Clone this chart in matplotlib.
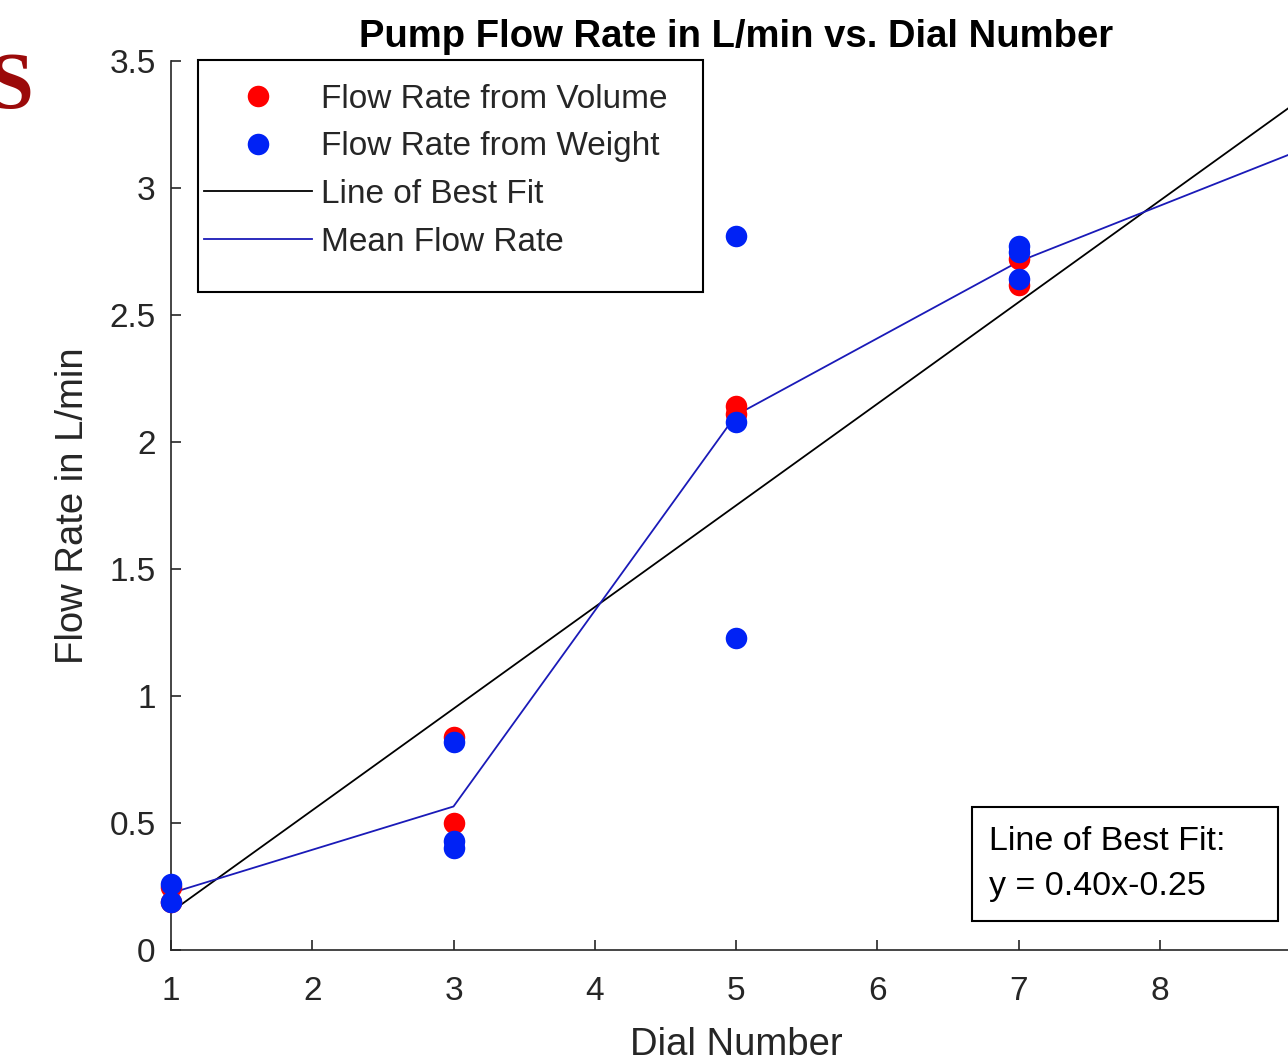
import matplotlib
matplotlib.use("Agg")
import matplotlib.pyplot as plt
from matplotlib.patches import Rectangle
from matplotlib.lines import Line2D

# --- data ---
dial_volume = [1, 1, 3, 3, 5, 5, 7, 7, 9, 9]
rate_volume = [0.19, 0.25, 0.84, 0.50, 2.14, 2.11, 2.72, 2.62, 3.15, 3.20]

dial_weight = [1, 1, 3, 3, 3, 5, 5, 5, 7, 7, 7, 9, 9]
rate_weight = [0.26, 0.19, 0.82, 0.43, 0.40, 2.81, 2.08, 1.23, 2.77, 2.75, 2.64, 3.10, 3.15]

dial_mean = [1, 3, 5, 7, 9]
rate_mean = [0.224, 0.565, 2.106, 2.71, 3.15]

fit_slope = 0.40
fit_intercept = -0.25
fit_x = [1, 9]

x_ticks = [1, 2, 3, 4, 5, 6, 7, 8, 9]
y_ticks = [0, 0.5, 1, 1.5, 2, 2.5, 3, 3.5]
y_ticklabels = ["0", "0.5", "1", "1.5", "2", "2.5", "3", "3.5"]

# --- figure ---
W, H = 1288, 1056
plt.rcParams['font.family'] = ['Liberation Sans', 'DejaVu Sans']
fig = plt.figure(figsize=(W / 100, H / 100), dpi=100)

def fx(px):
    return px / W

def fy(py):
    return 1 - py / H

# axes run from dial 1 (x=171px) to dial 9 (x=1301px, just past the right edge)
ax = fig.add_axes([fx(171), fy(950), fx(1301) - fx(171), fy(61) - fy(950)])

gray = '#262626'
red = '#ff0000'
blue = '#0022f5'
mean_blue = '#1a1ab8'

fit_y = [fit_slope * x + fit_intercept for x in fit_x]
ax.plot(fit_x, fit_y, color='black', lw=1.3, zorder=2)
ax.plot(dial_mean, rate_mean, color=mean_blue, lw=1.3, zorder=2)
ax.plot(dial_volume, rate_volume, 'o', color=red, ms=15.5, mec='none', zorder=3, clip_on=False)
ax.plot(dial_weight, rate_weight, 'o', color=blue, ms=15.5, mec='none', zorder=4, clip_on=False)

ax.set_xlim(1, 9)
ax.set_ylim(0, 3.5)
ax.set_xticks(x_ticks)
ax.set_yticks(y_ticks)
ax.set_yticklabels(y_ticklabels)
ax.tick_params(direction='in', length=7.5, width=1.2, colors=gray, labelsize=24)
ax.tick_params(axis='x', pad=19)
ax.tick_params(axis='y', pad=11)
for side in ['top', 'right']:
    ax.spines[side].set_visible(False)
for side in ['left', 'bottom']:
    ax.spines[side].set_color(gray)
    ax.spines[side].set_linewidth(1.2)

ax.set_title('Pump Flow Rate in L/min vs. Dial Number', fontsize=27.5, fontweight='bold', pad=10)
ax.set_xlabel('Dial Number', fontsize=27.5, color=gray, labelpad=14)
ax.set_ylabel('Flow Rate in L/min', fontsize=27.5, color=gray, labelpad=13)

# legend drawn inside a hand-sized box
fig.patches.append(Rectangle((fx(198), fy(292)), fx(703) - fx(198), fy(60) - fy(292),
                             transform=fig.transFigure, fill=True, facecolor='white',
                             edgecolor='black', lw=1.5, zorder=5))
handles = [
    Line2D([], [], ls='none', marker='o', color=red, ms=15.5, mec='none'),
    Line2D([], [], ls='none', marker='o', color=blue, ms=15.5, mec='none'),
    Line2D([], [], color='black', lw=1.3),
    Line2D([], [], color=mean_blue, lw=1.3),
]
labels = ['Flow Rate from Volume', 'Flow Rate from Weight', 'Line of Best Fit', 'Mean Flow Rate']
leg = fig.legend(handles, labels, loc='upper left', bbox_to_anchor=(fx(197), fy(77)),
                 frameon=False, fontsize=24, handlelength=3.25, handletextpad=0.27,
                 labelspacing=0.5, borderaxespad=0, borderpad=0.2)
leg.set_zorder(6)
for t in leg.get_texts():
    t.set_color(gray)

# fit equation box
fig.patches.append(Rectangle((fx(972), fy(921)), fx(1278) - fx(972), fy(807) - fy(921),
                             transform=fig.transFigure, facecolor='white',
                             edgecolor='black', lw=1.5, zorder=5))
fig.text(fx(989), fy(842), 'Line of Best Fit:', fontsize=24.5, va='center', ha='left', zorder=6)
fig.text(fx(989), fy(886), 'y = 0.40x-0.25', fontsize=24.5, va='center', ha='left', zorder=6)

# leftover slide title letter at the top-left
fig.text(fx(33), fy(108), 'S', fontsize=58, fontweight='bold', color='#9b0a0a',
         family='Liberation Serif', ha='right', va='baseline')

fig.savefig('out.png', dpi=100)
